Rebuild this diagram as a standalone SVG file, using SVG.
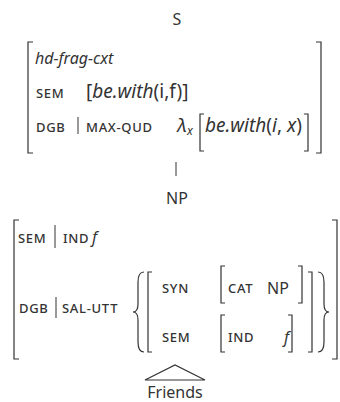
<svg xmlns="http://www.w3.org/2000/svg" width="340" height="402" viewBox="0 0 340 402">
<style>
text{font-family:"Noto Sans","Open Sans",sans-serif;fill:#333;font-size:16px}
.sc{font-size:13px;letter-spacing:0.7px;font-weight:500}
.it{font-style:italic}
.m{font-size:19px}
.br{fill:none;stroke:#333;stroke-width:1.2}
.bar{stroke:#333;stroke-width:1}
</style>
<rect width="340" height="402" fill="#fff"/>
<g id="node-S">
<text x="177" y="25" text-anchor="middle">S</text>
<path class="br" d="M33,42H28V153H33"/>
<path class="br" d="M316,42H321V153H316"/>
<text x="35" y="64" class="it" font-size="17">hd-frag-cxt</text>
<text x="36" y="98" class="sc">SEM</text>
<text x="86" y="98" class="m">[<tspan class="it">be.with</tspan>(i,f)]</text>
<text x="36" y="132" class="sc">DGB</text>
<line class="bar" x1="78" y1="117" x2="78" y2="134"/>
<text x="86" y="132" class="sc">MAX-QUD</text>
<text x="177" y="132" class="it m">λ<tspan font-size="12" dy="3">x</tspan></text>
<path class="br" d="M204,114H200V151H204"/>
<text x="205" y="132" class="m"><tspan class="it">be.with</tspan>(<tspan class="it">i</tspan>, <tspan class="it">x</tspan>)</text>
<path class="br" d="M304,114H308V151H304"/>
</g>
<g id="connectors">
<line class="bar" x1="176" y1="162" x2="176" y2="176"/>
<path class="br" d="M145,380L175,365L205,380Z" stroke-width="1"/>
</g>
<g id="node-NP">
<text x="177" y="204" text-anchor="middle" font-size="17">NP</text>
<path class="br" d="M19,220H14V359H19"/>
<path class="br" d="M332,220H337V359H332"/>
<text x="18" y="243" class="sc">SEM</text>
<line class="bar" x1="55" y1="225" x2="55" y2="248"/>
<text x="63" y="243" class="sc">IND</text>
<text x="92" y="243" class="it" font-size="18">f</text>
<text x="19" y="313" class="sc">DGB</text>
<line class="bar" x1="56" y1="297" x2="56" y2="318"/>
<text x="62" y="313" class="sc">SAL-UTT</text>
<path class="br" stroke-width="1.5" d="M144,272C139,272 138,276 138,282V304C138,309 136,312 133,312C136,312 138,315 138,320V342C138,348 139,352 144,352"/>
<path class="br" d="M152,272H148V352H152"/>
<text x="162" y="293" class="sc">SYN</text>
<path class="br" d="M225,266H221V303H225"/>
<text x="228" y="293" class="sc">CAT</text>
<text x="267" y="294" font-size="18">NP</text>
<path class="br" d="M298,266H302V303H298"/>
<text x="162" y="342" class="sc">SEM</text>
<path class="br" d="M225,315H221V352H225"/>
<text x="228" y="342" class="sc">IND</text>
<text x="284" y="343" class="it" font-size="18">f</text>
<path class="br" d="M288,315H292V352H288"/>
<path class="br" d="M308,272H312V352H308"/>
<path class="br" stroke-width="1.5" d="M318,272C323,272 324,276 324,282V304C324,309 326,312 329,312C326,312 324,315 324,320V342C324,348 323,352 318,352"/>
<text x="175" y="398" text-anchor="middle" font-size="17">Friends</text>
</g>
</svg>
